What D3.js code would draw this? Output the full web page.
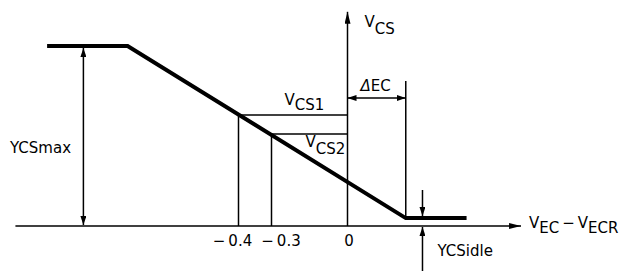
<!DOCTYPE html>
<html>
<head>
<meta charset="utf-8">
<script src="https://cdn.jsdelivr.net/npm/d3@7"></script>
<style>
  body { margin: 0; background: #fff; }
  svg text { font-family: "DejaVu Sans", sans-serif; font-size: 15px; fill: #000; }
</style>
</head>
<body>
<div id="chart"></div>
<script>
// schematic characteristic, x = VEC - VECR, y = VCS (relative, 1 = YCSmax)
const curveX = [-0.98, -0.736, 0.23, 0.47];
const curveY = [1, 1, 0.044, 0.044];
const tickVals = [-0.4, -0.3, 0];
const tickLabels = ["\u2212\u20090.4", "\u2212\u20090.3", "0"];
const levelVals = [0.617, 0.511];          // VCS1, VCS2
const deltaEC = 0.23;
const ycsMaxX = -0.87, ycsIdleX = 0.296;

const width = 622, height = 275;
const labelDx = [-6, 9.5, 1.5];
const svg = d3.select("#chart").append("svg").attr("width", width).attr("height", height);

// the original drawing is not to scale: piecewise axis
const x = d3.scaleLinear().domain([-0.4, -0.3, 0]).range([238.5, 271.5, 347.5]);
const y = d3.scaleLinear().domain([0, 1]).range([226, 46]);

const defs = svg.append("defs");
defs.append("marker").attr("id", "axhead").attr("viewBox", "0 0 12 6").attr("refX", 12).attr("refY", 3)
  .attr("markerWidth", 12).attr("markerHeight", 6).attr("markerUnits", "userSpaceOnUse").attr("orient", "auto")
  .append("path").attr("d", "M0,0L12,3L0,6Z");
defs.append("marker").attr("id", "dimhead").attr("viewBox", "0 0 9 6").attr("refX", 9).attr("refY", 3)
  .attr("markerWidth", 9).attr("markerHeight", 6).attr("markerUnits", "userSpaceOnUse").attr("orient", "auto-start-reverse")
  .append("path").attr("d", "M0,0L9,3L0,6Z");

const line = (x1, y1, x2, y2, w) => svg.append("line")
  .attr("x1", x(x1)).attr("y1", y(y1)).attr("x2", x(x2)).attr("y2", y(y2))
  .attr("stroke", "#000").attr("stroke-width", w || 1.5);

// axes
line(-1.076, 0, 0.685, 0, 1.5).attr("marker-end", "url(#axhead)");
line(0, 0, 0, 1.19, 1.5).attr("marker-end", "url(#axhead)");

// tick labels
svg.append("g").selectAll("text").data(tickVals).join("text")
  .attr("x", d => x(d)).attr("dx", (d, i) => labelDx[i]).attr("y", y(0) + 20).attr("text-anchor", "middle")
  .text((d, i) => tickLabels[i]);

// VCS1 / VCS2 guides
tickVals.slice(0, 2).forEach((t, i) => {
  line(t, 0, t, levelVals[i], 1.5);
  line(t, levelVals[i], 0, levelVals[i], 1.5);
});

// characteristic
svg.append("path")
  .attr("d", d3.line().x(d => x(d[0])).y(d => y(d[1]))(curveX.map((v, i) => [v, curveY[i]])))
  .attr("fill", "none").attr("stroke", "#000").attr("stroke-width", 4).attr("stroke-linejoin", "miter");

// YCSmax dimension
line(ycsMaxX, 0, ycsMaxX, 1, 1.5).attr("marker-start", "url(#dimhead)").attr("marker-end", "url(#dimhead)")
  .attr("y1", y(0) - 1).attr("y2", y(1) + 2);
svg.append("text").attr("x", 10).attr("y", 153).text("YCSmax");

// ΔEC dimension
line(deltaEC, curveY[2], deltaEC, 0.806, 1.5);
line(0, 0.711, deltaEC, 0.711, 1.5).attr("marker-start", "url(#dimhead)").attr("marker-end", "url(#dimhead)");
const dec = svg.append("text").attr("x", (x(0) + x(deltaEC)) / 2 - 1).attr("y", 91).attr("text-anchor", "middle");
dec.append("tspan").style("font-style", "italic").text("\u0394");
dec.append("tspan").text("EC");

// YCSidle dimension
line(ycsIdleX, 0.2, ycsIdleX, curveY[2], 1.5).attr("y2", y(curveY[2]) - 2).attr("marker-end", "url(#dimhead)");
line(ycsIdleX, -0.25, ycsIdleX, 0, 1.5).attr("y2", y(0) + 1).attr("marker-end", "url(#dimhead)");
svg.append("text").attr("x", x(ycsIdleX) + 15).attr("y", y(0) + 30).text("YCSidle");

// labels with subscripts
function vlabel(px, py, parts) {
  const t = svg.append("text").attr("x", px).attr("y", py);
  parts.forEach(p => {
    t.append("tspan").attr("dy", p[1]).text(p[0]);
  });
  return t;
}
vlabel(x(-0.4) + 46, y(levelVals[0]) - 10, [["V", 0], ["CS1", 5]]);
vlabel(x(-0.3) + 34, y(levelVals[1]) + 13, [["V", 0], ["CS2", 7]]);
vlabel(x(0) + 17, 27, [["V", 0], ["CS", 7]]);
vlabel(529, 228, [["V", 0], ["EC", 5], ["\u2009\u2212\u2009", -5], ["V", 0], ["ECR", 5]]);
</script>
</body>
</html>
